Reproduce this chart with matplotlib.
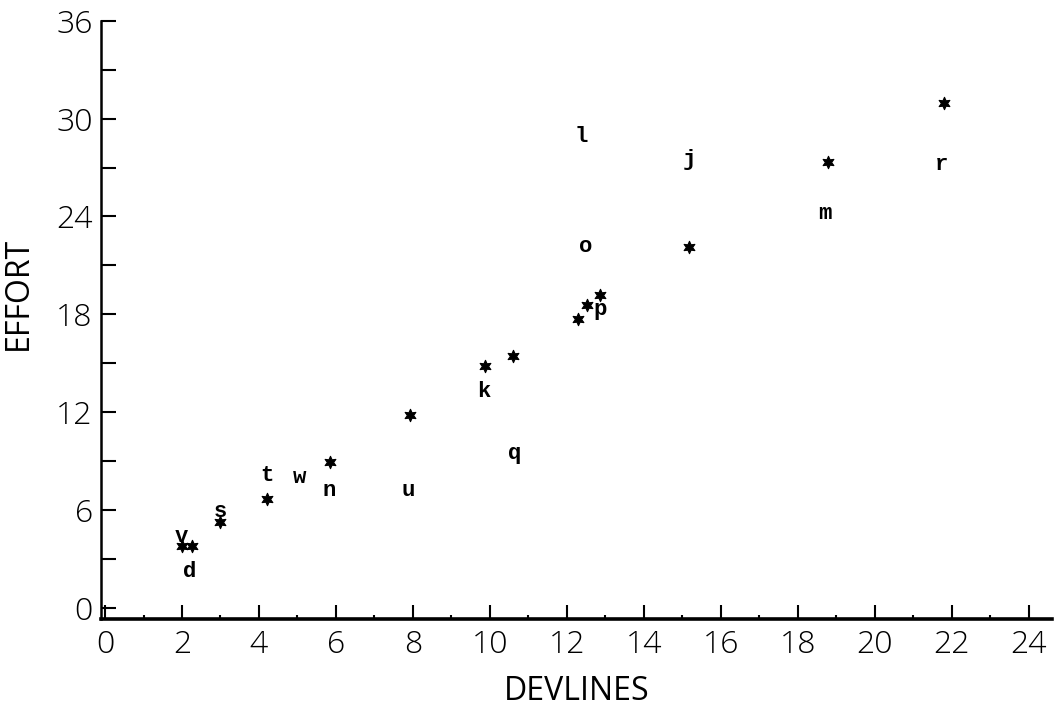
import matplotlib
matplotlib.use("Agg")
import matplotlib.pyplot as plt
from matplotlib.ticker import MultipleLocator

# Estimated effort for each devlines value (asterisks)
star_x = [2.00, 2.26, 2.99, 4.20, 5.84, 7.92, 9.87, 10.60, 12.29, 12.51, 12.86, 15.18, 18.79, 21.79]
star_y = [3.80, 3.80, 5.29, 6.66, 8.97, 11.83, 14.84, 15.45, 17.70, 18.58, 19.19, 22.12, 27.36, 30.94]

# Observed projects, plotted by their letter
letters  = ["v", "d", "s", "t", "w", "n", "u", "k", "q", "p", "l", "o", "j", "m", "r"]
letter_x = [1.99, 2.21, 2.99, 4.20, 5.04, 5.83, 7.88, 9.83, 10.65, 12.86, 12.36, 12.49, 15.19, 18.70, 21.73]
letter_y = [4.37, 2.23, 5.90, 8.15, 8.01, 7.23, 7.23, 13.26, 9.49, 18.27, 28.90, 22.16, 27.50, 24.20, 27.16]

x_label_ticks = list(range(0, 25, 2))
y_label_ticks = list(range(0, 37, 6))

plt.rcParams["font.family"] = ["Open Sans", "DejaVu Sans"]
plt.rcParams["font.weight"] = "light"

fig = plt.figure(figsize=(10.57, 7.15), dpi=100)
ax = fig.add_axes([0.0957, 0.1343, 0.8996, 0.8368])

ax.scatter(star_x, star_y, marker=(6, 1, 0), s=80, color="black", linewidths=0.8, zorder=3)
for lab, x, y in zip(letters, letter_x, letter_y):
    ax.text(x, y, lab, ha="center", va="center", fontsize=16,
            family="Liberation Mono", fontweight="bold", color="black")

ax.set_xlim(-0.1, 24.6)
ax.set_ylim(-0.67, 36)

for side in ("top", "right"):
    ax.spines[side].set_visible(False)
ax.spines["bottom"].set_linewidth(2.6)
ax.spines["left"].set_linewidth(1.8)
ax.spines["left"].set_bounds(-0.67, 36)

ax.set_xticks(x_label_ticks)
ax.xaxis.set_minor_locator(MultipleLocator(1))
ax.set_yticks(y_label_ticks)
ax.yaxis.set_minor_locator(MultipleLocator(3))

ax.tick_params(axis="x", which="major", direction="in", length=10, width=1.5, pad=7,
               labelsize=23)
ax.tick_params(axis="x", which="minor", direction="in", length=3, width=1.5)
ax.tick_params(axis="y", which="both", direction="in", length=11, width=1.5, pad=6,
               labelsize=23)

ax.set_xlabel("DEVLINES", fontsize=23, labelpad=10)
ax.set_ylabel("EFFORT", fontsize=23, labelpad=14)
ax.yaxis.set_label_coords(-0.07, 0.545)

fig.savefig("out.png", dpi=100, facecolor="white")
